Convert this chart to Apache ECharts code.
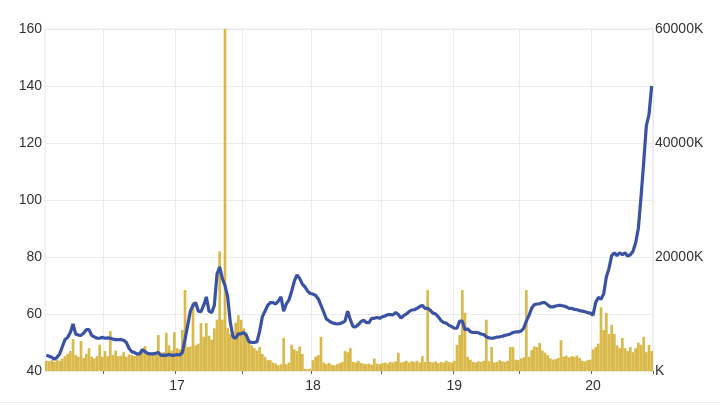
<!DOCTYPE html>
<html>
<head>
<meta charset="utf-8">
<script src="https://cdn.jsdelivr.net/npm/echarts@6/dist/echarts.min.js"></script>
<style>html,body{margin:0;padding:0;background:#fff}#c{width:720px;height:405px}</style>
</head>
<body>
<div id="c"></div>
<script>
// Weekly price (left axis)
const price = [
45.5,45.2,44.8,44.2,44.8,46,48.5,51,51.8,53.5,
56.5,53,52.6,52.5,53.3,54.5,54.5,52.5,52,51.5,
51.5,51.8,51.5,51.6,51.5,51.2,51,51,51,50.8,
50,48,46.8,46.5,46,46,47.5,46.8,46.2,46,
46,46.2,46.5,45.5,45.6,45.5,45.8,45.5,45.5,45.8,
45.6,46.5,51,56,61,63,64,61,60.8,63,
66,61,60.5,63,74,76.5,72.5,70,66,57,
52,51.5,53,53,53.5,52.5,50.3,50,50,50.3,
54,59,61,63,64,64,63.5,64.5,66,61,
63.5,65,68,71.5,73.7,72.5,70.5,69.5,68,67.2,
67,66.5,65.3,63,60.7,58.3,57.6,57,56.7,56.5,
56.6,57,57.5,61,58,55.6,55.5,56.3,57.3,57.8,
57,57,58.5,58.5,58.8,58.5,59,59.3,59.8,59.8,
59.7,60.5,59.8,58.6,59.4,60,60.8,61.4,61.5,62,
62.6,63,62,62,61.3,60.3,60,59,57.7,57,
56.8,56,55.6,55,55,57.5,57.5,54.5,54.8,53.8,
53.5,53.6,53.4,53,52.8,52,51.6,51.5,51.6,51.9,
52,52.2,52.5,52.7,53,53.5,53.7,53.7,54,55,
57.5,59.5,62,63.3,63.5,63.6,64,64,63.2,62.5,
62.5,62.8,63,63,62.8,62.5,62,62,61.6,61.5,
61.2,61,60.8,60.5,60.3,59.6,64,65.8,65.2,67,
73,76,80.5,81.5,80.5,81.5,80.8,81.5,80.3,80.8,
82,85,90,101,113,126,130,140
];
// Weekly volume in thousands (right axis)
const volume = [
1800,1700,1900,1600,2000,1800,2200,2600,3000,3500,
5600,2800,2500,5300,2300,3000,4000,2500,2200,2600,
4600,2500,3500,2600,7000,2800,3600,2600,2700,3300,
2500,2900,2800,2600,2900,3000,3600,4400,3000,2800,
3000,3200,6300,3200,3300,6700,4500,3600,6800,4000,
3800,7200,14200,4200,4300,12100,4500,4800,8400,6000,
8400,6200,5500,7500,9000,21000,9000,60000,7500,6500,
6800,8500,9800,9000,7500,6800,5000,4500,4000,3600,
4200,3000,2500,1900,1900,1500,1300,1000,1200,5800,
1200,1500,4600,3800,3500,4300,3000,400,300,400,
1900,2500,2800,6000,1500,1200,1400,1100,1000,1200,
1400,1600,3500,3300,4000,1600,1500,1800,1400,1300,
1200,1300,1100,2200,1300,1200,1400,1500,1300,1600,
1500,1700,3200,1500,1600,1800,1500,1700,1600,1800,
1500,2600,1600,14200,1600,1500,1700,1400,1600,1500,
1800,1600,1500,1800,4600,6300,14200,10200,2500,2000,
1600,1500,1700,1600,1800,9000,1700,4200,1500,1600,
1900,1700,1600,1800,4200,4200,2000,1900,2200,2400,
14200,2500,3700,4300,4200,4900,3600,3200,2800,2200,
2000,2100,2300,5400,2500,2700,2400,2600,2500,2700,
2300,1800,1700,1900,2000,3800,4200,4800,11200,7200,
10200,6500,8100,6500,4500,4000,5800,4000,3500,4200,
3300,4000,5000,4600,6000,3300,4600,3500
];
// Categories: weekly dates
const startDate = '2016-01-25';
const weeks = [];
{
  const d0 = new Date(startDate + 'T00:00:00Z');
  for (let i = 0; i < price.length; i++) {
    const d = new Date(d0.getTime() + i * 7 * 86400000);
    weeks.push(d.toISOString().slice(0, 10));
  }
}
// Half-year tick positions (week index) and year labels
const tickIndex = [22, 49, 74, 100, 126, 153, 178, 205];
const tickLabels = {49: '17', 100: '18', 153: '19', 205: '20'};

const leftTicks = {min: 40, max: 160, interval: 20};
const rightTicks = {min: 0, max: 60000, interval: 20000};

const chart = echarts.init(document.getElementById('c'), null, {renderer: 'canvas'});
const font = 'Liberation Sans, Arial, sans-serif';
chart.setOption({
  animation: false,
  backgroundColor: '#fff',
  graphic: [{
    type: 'rect', left: 0, bottom: 2, shape: {width: 720, height: 1},
    style: {fill: '#ececec'}, silent: true
  }],
  grid: {left: 45, right: 67, top: 29, bottom: 34, show: true, borderColor: '#e6e6e6', borderWidth: 1},
  xAxis: {
    type: 'category',
    data: weeks,
    boundaryGap: true,
    axisLine: {show: false},
    axisTick: {show: true, length: 3, interval: (i) => tickIndex.includes(i), lineStyle: {color: '#666'}},
    axisLabel: {
      interval: (i) => tickLabels[i] !== undefined,
      formatter: (v, i) => tickLabels[i] || '',
      color: '#333', fontSize: 14, fontFamily: font, margin: 8
    },
    splitLine: {show: true, interval: (i) => tickIndex.includes(i), lineStyle: {color: '#ebebeb', width: 1}}
  },
  yAxis: [
    {
      type: 'value', position: 'left', min: leftTicks.min, max: leftTicks.max, interval: leftTicks.interval,
      axisLine: {show: false}, axisTick: {show: false},
      axisLabel: {color: '#333', fontSize: 14, fontFamily: font, margin: 3},
      splitLine: {show: true, lineStyle: {color: '#ebebeb', width: 1}}
    },
    {
      type: 'value', position: 'right', min: rightTicks.min, max: rightTicks.max, interval: rightTicks.interval,
      axisLine: {show: false}, axisTick: {show: false},
      axisLabel: {color: '#333', fontSize: 14, fontFamily: font, margin: 2,
        formatter: (v) => (v === 0 ? '' : v) + 'K'},
      splitLine: {show: false}
    }
  ],
  series: [
    {
      type: 'bar', yAxisIndex: 1, data: volume, barCategoryGap: '0%',
      itemStyle: {color: '#d9b94a'}, z: 1, silent: true
    },
    {
      type: 'line', yAxisIndex: 0, data: price, showSymbol: false, symbol: 'none',
      lineStyle: {color: '#3a52a3', width: 3.2}, z: 3, silent: true
    }
  ]
});
</script>
</body>
</html>
